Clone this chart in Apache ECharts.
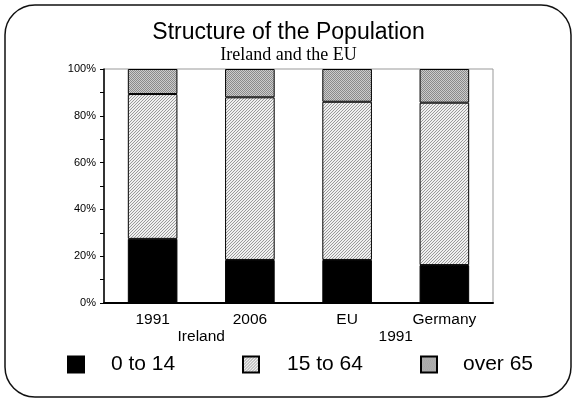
<!DOCTYPE html>
<html><head><meta charset="utf-8">
<script src="https://cdn.jsdelivr.net/npm/echarts@6/dist/echarts.min.js"></script>
<style>html,body{margin:0;padding:0;background:#fff}#c{width:577px;height:401px}</style>
</head><body><div id="c"></div>
<script>
const categories = ["1991", "2006", "EU", "Germany"];
const groupLabels = ["Ireland", "1991"];
const age0to14 = [27.4, 18.4, 18.4, 16.2];
const age15to64 = [61.9, 69.5, 67.6, 69.4];
const over65 = [10.7, 12.1, 14.0, 14.4];
const seriesNames = ["0 to 14", "15 to 64", "over 65"];

function makePattern(bg, fg, kind) {
  const c = document.createElement('canvas');
  c.width = 6; c.height = 6;
  const g = c.getContext('2d');
  g.fillStyle = bg; g.fillRect(0, 0, 6, 6);
  g.fillStyle = fg;
  if (kind === 'diag') {
    for (let i = 0; i < 6; i++) { g.fillRect((i + 0) % 6, 5 - i, 1, 1); g.fillRect((i + 3) % 6, 5 - i, 1, 1); }
  } else {
    for (let y = 0; y < 6; y++) for (let x = 0; x < 6; x++) if ((x + y) % 2 === 0) g.fillRect(x, y, 1, 1);
  }
  return { image: c, repeat: 'repeat' };
}
const midPat = makePattern('#f0f0f0', '#9a9a9a', 'diag');
const topPat = makePattern('#cccccc', '#8a8a8a', 'check');

const legendLefts = [67, 242, 420];
const legendTextPad = [22, 23, 21];
const legends = seriesNames.map((n, i) => ({
  left: legendLefts[i], top: 354, padding: 0, itemWidth: 16, itemHeight: 16, icon: 'rect',
  data: [n],
  textStyle: { fontFamily: 'Liberation Sans, Arial', fontSize: 21, color: '#000', padding: [2, 0, 0, legendTextPad[i]] }
}));

const chart = echarts.init(document.getElementById('c'), null, { renderer: 'canvas' });
const barStyle = (color) => ({ color: color, borderColor: '#000', borderWidth: 1 });
chart.setOption({
  animation: false,
  backgroundColor: '#fff',
  title: [
    { text: 'Structure of the Population', left: 'center', top: 16,
      textStyle: { fontFamily: 'Liberation Sans, Arial', fontSize: 23, fontWeight: 'normal', color: '#000' } },
    { text: 'Ireland and the EU', left: 'center', top: 41,
      textStyle: { fontFamily: 'Liberation Serif, Times New Roman', fontSize: 18, fontWeight: 'normal', color: '#000' } }
  ],
  graphic: [
    { type: 'rect', shape: { x: 5, y: 5, width: 566, height: 392, r: 30 },
      style: { fill: 'none', stroke: '#111', lineWidth: 1.5 }, z: -1 }
  ],
  legend: legends,
  grid: { left: 104, right: 84, top: 69, bottom: 98, show: true, borderColor: '#999', borderWidth: 1 },
  xAxis: [
    { type: 'category', data: categories, gridIndex: 0,
      axisLine: { lineStyle: { color: '#000', width: 2 } }, axisTick: { show: false },
      axisLabel: { color: '#000', fontFamily: 'Liberation Sans, Arial', fontSize: 15.5, margin: 9 } },
    { type: 'category', data: groupLabels, gridIndex: 0, position: 'bottom',
      axisLine: { show: false }, axisTick: { show: false },
      axisLabel: { color: '#000', fontFamily: 'Liberation Sans, Arial', fontSize: 15.5, margin: 26 } }
  ],
  yAxis: {
    type: 'value', min: 0, max: 100, interval: 10,
    axisLine: { show: true, lineStyle: { color: '#000', width: 1.5 } },
    axisTick: { show: true, inside: false, length: 4, lineStyle: { color: '#000' } },
    splitLine: { show: false },
    axisLabel: { color: '#000', fontFamily: 'Liberation Sans, Arial', fontSize: 11, margin: 8,
      formatter: v => (v % 20 === 0 ? v + '%' : '') }
  },
  series: [
    { name: seriesNames[0], type: 'bar', stack: 'a', data: age0to14, barWidth: '51%', itemStyle: barStyle('#000') },
    { name: seriesNames[1], type: 'bar', stack: 'a', data: age15to64, itemStyle: barStyle(midPat) },
    { name: seriesNames[2], type: 'bar', stack: 'a', data: over65, itemStyle: barStyle(topPat) }
  ]
});
</script></body></html>
